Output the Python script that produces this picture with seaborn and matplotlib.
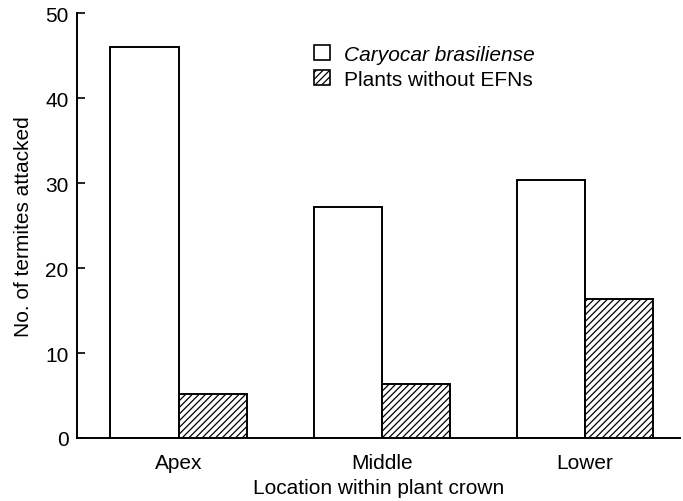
import pandas as pd
import matplotlib
matplotlib.use("Agg")
import matplotlib.pyplot as plt
from matplotlib.patches import Patch
import seaborn as sns

# Daten
locations = ["Apex", "Middle", "Lower"]
caryocar = [46.0, 27.2, 30.3]
without_efn = [5.2, 6.3, 16.3]
series_names = ["Caryocar brasiliense", "Plants without EFNs"]

df = pd.DataFrame({
    "location": locations * 2,
    "termites": caryocar + without_efn,
    "group": [series_names[0]] * 3 + [series_names[1]] * 3,
})

sns.set_style("ticks")
plt.rcParams["font.family"] = ["Liberation Sans", "DejaVu Sans"]
plt.rcParams["hatch.linewidth"] = 0.9
for key in ["text.color", "axes.labelcolor", "xtick.color", "ytick.color"]:
    plt.rcParams[key] = "black"

fig = plt.figure(figsize=(6.83, 5.02), dpi=100)
ax = fig.add_axes([0.1127, 0.1255, 0.883, 0.8466])

sns.barplot(data=df, x="location", y="termites", hue="group", order=locations,
            hue_order=series_names, palette=["white", "white"], width=0.67,
            edgecolor="black", linewidth=1.4, saturation=1, ax=ax)

# schraffierte Balken fuer die zweite Gruppe
for bar in ax.containers[1]:
    bar.set_hatch("/////")

ax.legend_.remove()
handles = [Patch(facecolor="white", edgecolor="black", linewidth=1.2),
           Patch(facecolor="white", edgecolor="black", linewidth=1.2, hatch="/////")]
leg = ax.legend(handles, series_names, loc="upper left", bbox_to_anchor=(0.38, 0.945),
                frameon=False, fontsize=15, handlelength=0.75, handleheight=0.75,
                handletextpad=0.65, labelspacing=0.3, borderaxespad=0)
leg.get_texts()[0].set_style("italic")

ax.set_ylim(0, 50)
ax.set_xlim(-0.5, 2.47)
ax.set_yticks([0, 10, 20, 30, 40, 50])
ax.tick_params(axis="y", direction="in", length=6, width=1.2, labelsize=15, pad=6)
ax.tick_params(axis="x", length=0, labelsize=15, pad=11)

sns.despine(ax=ax)
for s in ["left", "bottom"]:
    ax.spines[s].set_linewidth(1.4)
    ax.spines[s].set_color("black")

ax.set_xlabel("Location within plant crown", fontsize=15, labelpad=4)
ax.set_ylabel("No. of termites attacked", fontsize=15, labelpad=9)

fig.savefig("out.png", dpi=100)
